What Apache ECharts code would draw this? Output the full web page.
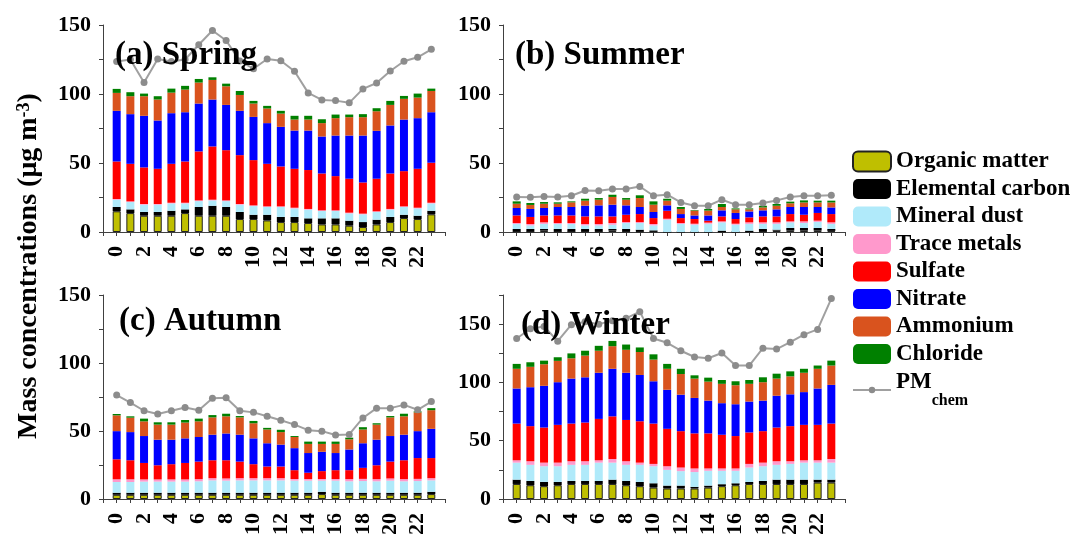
<!DOCTYPE html>
<html>
<head>
<meta charset="utf-8">
<script src="https://cdn.jsdelivr.net/npm/echarts@6/dist/echarts.min.js"></script>
<style>
  html, body { margin: 0; padding: 0; background: #fff; }
  #chart { width: 1070px; height: 538px; }
</style>
</head>
<body>
<div id="chart"></div>
<script>
// Hour of day (local time)
const hours = [0,1,2,3,4,5,6,7,8,9,10,11,12,13,14,15,16,17,18,19,20,21,22,23];
// Axis positions: one spare slot on each side of the 24 hours
const hourSlots = ['-1'].concat(hours.map(String), ['24']);

// Component names, in stacking order (bottom to top)
const components = ['Organic matter','Elemental carbon','Mineral dust','Trace metals','Sulfate','Nitrate','Ammonium','Chloride'];
const lineName = 'PMchem';

// Spring (µg m-3)
const springOrganic   = [15,13.7,11.8,11.8,11.8,13.7,11.8,11.8,11.8,9.4,9.4,8.4,7.2,7.2,6.5,5.5,5.5,4.6,3.6,5.5,7.2,10.1,9.4,12.8];
const springEC        = [3.1,2.7,2.7,2.7,3.6,2.7,6.3,7.2,6.3,5.1,3.1,4.1,3.7,3.7,3.4,4.4,4.4,3.6,3.6,3.4,3.7,2.4,2.4,2.6];
const springDust      = [5.3,5.3,5.3,5.3,5.3,4.3,4.3,3.9,4.3,5.3,6.3,5.6,7.2,6.2,6.3,5.3,5.3,5.3,5.6,5.6,5.3,5.6,5.3,5.3];
const springTrace     = [0.5,0.5,0.5,0.5,0.5,0.5,0.5,0.5,0.5,0.5,0.5,0.5,0.5,0.5,0.5,0.5,0.5,0.5,0.5,0.5,0.5,0.5,0.5,0.5];
const springSulfate   = [27.2,27.2,26.5,25.5,28.2,29.9,35.5,38.6,36.4,35.4,32.8,30.8,28.9,28.2,28.2,26.7,24.8,24.6,22.6,23.6,25.7,25.5,28.2,29];
const springNitrate   = [36.7,36,37.4,35,36.7,35.7,34.7,34,32.8,32.1,31.3,29.5,28.7,27.7,28.6,26.8,29.4,31.3,34,34.7,34.8,37.4,36.7,36.6];
const springAmmonium  = [13,13,14.2,15.2,14.9,16.4,15.2,14.2,13.5,11.5,9.7,10.6,9.6,8,8,9.7,12.6,13.3,13.3,14.2,14.9,15,14.9,15.4];
const springChloride  = [2.9,2.9,1.9,2.4,2.9,2.7,2.6,1.9,1.9,2.9,1.9,1.9,2,2.7,2.7,2.8,2.6,1.9,2.2,2.2,2.9,2.1,2.9,1.7];
const springPM        = [123.6,125,108.4,125.4,123.6,125,135.7,146,138.8,124,118.3,125.4,124.1,116.5,100.8,95.7,95.2,93.6,103.7,108,116.7,123.7,126.6,132.4];

// Summer
const summerOrganic   = [0.3,0.3,1,0.3,0.3,0.3,0.3,1,0.3,0.3,0.3,0,0,0,0,0,0,0,0.3,1,1,1,1,0.8];
const summerEC        = [1.9,1.9,1.2,1.9,1.9,1.9,1.9,1.2,1.9,1.4,0.9,0,0,0,0,1,0,1,1.9,0.7,1.9,1.9,1.9,1.4];
const summerDust      = [3.6,2.6,3.7,3.6,3.6,2.6,2.6,3.1,4.3,4.8,3.6,8.9,5.8,5.3,6,6,5.3,4.9,3.7,4.2,4.1,3.6,4.4,3.7];
const summerTrace     = [0.7,1,1.1,0.7,0.7,1,1,1.2,0.7,0.7,1,0.7,0.7,0.7,0.8,0.7,0.7,1.1,1.1,1.1,0.7,1.2,0.9,1.1];
const summerSulfate   = [5.5,5.1,5,5.5,5.5,5.5,5.5,4.8,5.3,5.8,4.3,5.8,3.6,3.4,1.4,3.6,3.4,3.6,4.3,4.3,5.3,4.8,5.6,6];
const summerNitrate   = [5.4,5.8,5.4,6.1,6.1,7.8,8,8.5,6.8,5.1,4.4,3.9,2.9,2.6,3.8,4.4,4.4,4.3,4.4,5.1,5.1,5.6,4.3,4.8];
const summerAmmonium  = [3.1,2.9,3.1,2.4,3.4,3.6,4.1,5.6,4.1,6.5,5.3,3.4,3.7,3.5,3.5,2.4,2.6,1.5,2.1,2.6,2.7,3.3,3.3,3.6];
const summerChloride  = [1.7,1.4,1.2,1,0.7,1.4,1.2,1.6,1.2,2,2.4,1.4,1.4,0.4,1.2,2.2,0.7,0.7,1.2,1.3,1.2,1.5,1.3,1.3];
const summerPM        = [25.4,25.1,25.8,25.3,26.3,30.1,29.9,31.1,31.1,33,26.3,27,21.4,19,19,23.4,19.8,19.8,21,22.9,25.4,26.3,26.3,26.6];

// Autumn
const autumnOrganic   = [3.1,3.1,3.1,3.1,3.1,3.1,3.1,3.1,3.1,3.1,3.1,3.1,3.1,3.1,3.1,3.6,3.1,3.1,3.1,3.1,3.1,3.1,3.1,3.6];
const autumnEC        = [1.5,1.5,1.5,1.5,1.5,1.5,1.5,1.5,1.5,1.5,1.5,1.5,1.5,1.5,1.5,1.7,1.5,1.5,1.5,1.5,1.5,1.5,1.5,1.7];
const autumnDust      = [7.9,7.9,8.2,8.2,8.2,8.2,8.4,9.1,8.9,9.1,9.1,9.1,9.1,8.9,8.9,8.2,8.9,8.4,8.6,8.4,8.9,8.4,8.6,8.4];
const autumnTrace     = [2,2,1.6,1.6,1.6,1.6,1.6,1.6,1.6,1.6,1.6,1.6,1.6,1.2,1.2,1.2,1.2,1.6,1.6,1.6,1.6,1.6,1.6,1.6];
const autumnSulfate   = [14.7,14,12.1,10.4,11.2,12.1,12.9,13.2,13.4,12.2,10.3,8.6,8.6,6.5,4.6,5.8,6.5,6.6,8.1,10.2,12.4,13.9,15.3,14.8];
const autumnNitrate   = [20.7,20.7,19.8,18.8,18,18.1,18.1,18.8,19.7,19.8,19,17.1,16.1,16.2,14.5,14.2,12.6,15.2,18.1,18.8,18.8,18.8,19.8,21.5];
const autumnAmmonium  = [11.6,10.6,10.8,11.1,11.1,11.6,11.5,12.7,12.6,12.7,11.1,10.1,9.2,8.2,6.7,5.8,6.7,7.5,10.1,11.1,13.7,13.5,13.8,13.7];
const autumnChloride  = [1,1,2,1.7,1.7,1.9,2,1.7,1.9,1,1.7,1.2,1.7,0.7,1.7,1.7,1.7,1.2,1.7,1,1,1.9,0.7,1.5];
const autumnPM        = [76.4,70.9,64.9,62.5,64.9,67.3,65.3,74,74.5,64.9,63.7,60.8,57.9,54.7,50.6,49.9,47,47.5,59.6,66.8,66.8,69.2,65.6,71.6];

// Winter
const winterOrganic   = [12.9,11.8,11,11.8,12.9,12.9,12.9,12.9,11.8,11,9.8,9,9,9,9.8,11,11.8,12.9,12.9,12.9,12.9,12.9,14.1,14.1];
const winterEC        = [3.7,3.7,3.6,2.8,2.6,2.6,2.6,3.7,3.7,3.6,3.7,2.5,2.5,1.4,1.7,1.7,1.7,1.7,2.6,3.7,3.7,3.7,2.5,2.5];
const winterDust      = [14.6,13.8,13.5,13.5,13.8,13.8,15.7,14.6,13.8,14.7,14.6,13.5,12.4,12.7,12.7,11.5,10.7,12.4,12.6,12.7,13.5,14.6,14.6,14.6];
const winterTrace     = [2,3.1,3.1,3.1,3.1,3.1,2,3.1,3.1,1.9,2,3.1,3.1,3.1,2,2,2,3.1,3.1,3.1,2.3,2,2,3.1];
const winterSulfate   = [31.5,30.1,30.1,32.4,32.3,33.2,35.5,36.6,35.4,35.5,34.6,32.1,31.2,30.1,30.1,28.9,27.8,27,27,28.9,30.1,30.4,30.4,30.4];
const winterNitrate   = [30.1,33.4,35.8,36.6,38.6,38.8,39.6,40.8,40.5,39.7,36.3,33.5,31.3,30.4,28.1,27.1,27.3,26.5,26.2,27.3,27.3,28.1,31.2,33.2];
const winterAmmonium  = [16.9,17.5,18.5,18.3,17.4,18.6,18.9,19.4,19.7,19.7,18.6,18,17.7,16.6,16.3,16.6,16.3,15.2,15.8,14.7,15.4,16.6,16.9,16.6];
const winterChloride  = [4.2,3.9,3.1,3.1,4.2,4.2,4.2,4.5,4.5,3.9,4.5,4.2,4.5,2.8,3.4,3.3,3.4,3.3,4.2,4.2,4.3,3.4,2.8,4.2];
const winterPM        = [137.7,146,148,135.4,149.5,152,150,153,155,160.7,137.7,134,127.2,121.8,120.7,125.2,114.5,114.5,129.4,128.6,134.5,141,145.5,171.9];

// Panel titles and y-axis upper limits
const panelTitles = ['(a) Spring','(b) Summer','(c) Autumn','(d) Winter'];
const yMax = [150, 150, 150, 175];

const seasons = [
  [springOrganic, springEC, springDust, springTrace, springSulfate, springNitrate, springAmmonium, springChloride, springPM],
  [summerOrganic, summerEC, summerDust, summerTrace, summerSulfate, summerNitrate, summerAmmonium, summerChloride, summerPM],
  [autumnOrganic, autumnEC, autumnDust, autumnTrace, autumnSulfate, autumnNitrate, autumnAmmonium, autumnChloride, autumnPM],
  [winterOrganic, winterEC, winterDust, winterTrace, winterSulfate, winterNitrate, winterAmmonium, winterChloride, winterPM]
];

const colors = ['#BFBF00','#000000','#B0EAFA','#FF99CC','#FF0000','#0000FF','#D9531E','#008000'];
const FONT = 'Liberation Serif';
const AXIS = '#404040';

const grids = [
  { left: 103, top: 25,  width: 342, height: 207 },
  { left: 503, top: 25,  width: 342, height: 207 },
  { left: 103, top: 295, width: 342, height: 207 },
  { left: 503, top: 295, width: 342, height: 207 }
];

const xAxes = grids.map((g, i) => ({
  type: 'category', gridIndex: i, data: hourSlots, boundaryGap: false,
  axisLine: { show: true, lineStyle: { color: AXIS, width: 1 } },
  axisTick: { show: true, length: 4, interval: 0, lineStyle: { color: AXIS } },
  splitLine: { show: false },
  axisLabel: {
    interval: 0, rotate: 90, margin: 14, color: '#000',
    fontFamily: FONT, fontWeight: 'bold', fontSize: 22,
    formatter: v => { const n = Number(v); return (n >= 0 && n <= 22 && n % 2 === 0) ? v : ''; }
  }
}));

const yAxes = grids.map((g, i) => ({
  type: 'value', gridIndex: i, min: 0, max: yMax[i], interval: 25,
  axisLine: { show: true, lineStyle: { color: AXIS, width: 1 } },
  axisTick: { show: true, length: 4, lineStyle: { color: AXIS } },
  splitLine: { show: false },
  axisLabel: {
    margin: 12, color: '#000',
    fontFamily: FONT, fontWeight: 'bold', fontSize: 22,
    formatter: v => (v % 50 === 0) ? String(v) : ''
  }
}));

const series = [];
seasons.forEach((arrs, gi) => {
  components.forEach((name, ci) => {
    series.push({
      name, type: 'bar', stack: 'season' + gi,
      xAxisIndex: gi, yAxisIndex: gi,
      barWidth: 8,
      itemStyle: ci === 0
        ? { color: colors[ci], borderColor: '#222', borderWidth: 1 }
        : { color: colors[ci] },
      emphasis: { disabled: true },
      data: hours.map((h, k) => [String(h), arrs[ci][k]])
    });
  });
  series.push({
    name: lineName, type: 'line',
    xAxisIndex: gi, yAxisIndex: gi, z: 4,
    symbol: 'circle', symbolSize: 7,
    lineStyle: { color: '#A0A0A0', width: 2 },
    itemStyle: { color: '#8C8C8C' },
    emphasis: { disabled: true },
    data: hours.map((h, k) => [String(h), arrs[8][k]])
  });
});

const titles = panelTitles.map((t, i) => ({
  text: t, padding: 0,
  left: [115, 515, 119, 521][i],
  top: [39, 39, 305, 309][i],
  textStyle: { fontFamily: FONT, fontWeight: 'bold', fontSize: 33, color: '#000' }
}));

const legendText = {
  fontFamily: FONT, fontWeight: 'bold', fontSize: 23, color: '#000', lineHeight: 21,
  rich: {
    m: { fontFamily: FONT, fontWeight: 'bold', fontSize: 23, lineHeight: 22, verticalAlign: 'top', color: '#000' },
    s: { fontFamily: FONT, fontWeight: 'bold', fontSize: 16, lineHeight: 24, verticalAlign: 'bottom', color: '#000' },
    h: { fontSize: 1, lineHeight: 38, color: '#000' }
  }
};

const chart = echarts.init(document.getElementById('chart'), null, { renderer: 'canvas' });
chart.setOption({
  animation: false,
  backgroundColor: '#fff',
  title: titles,
  grid: grids,
  xAxis: xAxes,
  yAxis: yAxes,
  legend: [{
    orient: 'vertical', left: 852, top: 150, padding: 0,
    itemWidth: 38, itemHeight: 20, itemGap: 4.5,
    data: components, selectedMode: false,
    textStyle: legendText
  }, {
    orient: 'vertical', left: 852, top: 371, padding: 0,
    itemWidth: 38, itemHeight: 8,
    data: [lineName], selectedMode: false,
    formatter: () => '{m|PM}{s|chem}{h| }',
    textStyle: legendText
  }],
  graphic: [{
    type: 'text', x: 29, y: 266, rotation: Math.PI / 2,
    style: {
      text: '{a|Mass concentrations (μg m}{s|-3}{a|)}',
      align: 'center', verticalAlign: 'middle',
      rich: {
        a: { fontFamily: FONT, fontWeight: 'bold', fontSize: 28, lineHeight: 28, padding: [8, 0, 0, 0], verticalAlign: 'bottom', fill: '#000' },
        s: { fontFamily: FONT, fontWeight: 'bold', fontSize: 18, lineHeight: 18, verticalAlign: 'top', fill: '#000' }
      }
    }
  }],
  series
});
</script>
</body>
</html>
